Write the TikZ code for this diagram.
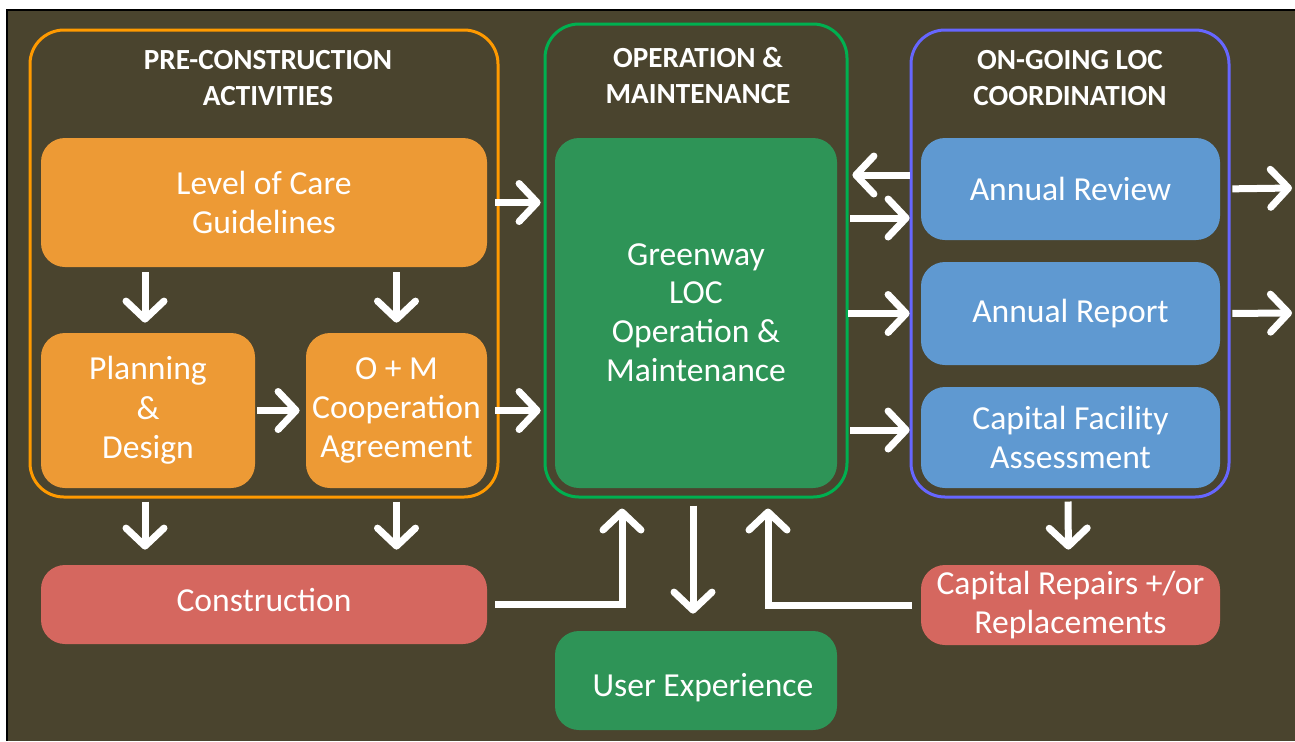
\documentclass[tikz,border=0pt]{standalone}
\usepackage{fontspec}
\setmainfont{Carlito}
\usetikzlibrary{arrows.meta}
\definecolor{bgcol}{HTML}{4A442E}
\definecolor{preline}{HTML}{FF9A00}
\definecolor{omline}{HTML}{00B050}
\definecolor{locline}{HTML}{6666FF}
\definecolor{prefill}{HTML}{ED9A35}
\definecolor{omfill}{HTML}{2E9457}
\definecolor{locfill}{HTML}{5F99D1}
\definecolor{redfill}{HTML}{D5675F}
\begin{document}
\begin{tikzpicture}[x=0.5pt,y=-0.5pt,
  frame/.style={draw,line width=1.5pt,rounded corners=17pt,inner sep=0pt},
  head/.style={text=white,font=\bfseries\fontsize{14.6}{18}\selectfont,align=center},
  box/.style={rounded corners=12pt,text=white,font=\fontsize{16.8}{19.7}\selectfont,align=center,inner sep=0pt},
  flow/.style={draw=white,line width=3.5pt,-{Straight Barb[length=9pt,width=19pt,round]}},
]
%%
\useasboundingbox (0,0) rectangle (1295,741);
\fill[bgcol] (7,10) rectangle (1295,741);
\draw[black,line width=1pt] (7,741) -- (7,10) -- (1295,10);
%% frames
\node (pre) at (264,263.5) [frame,draw=preline,minimum width=234pt,minimum height=233.5pt] {};
\node (om) at (696,260.5) [frame,draw=omline,minimum width=151pt,minimum height=236.5pt] {};
\node (loc) at (1070,263.5) [frame,draw=locline,minimum width=159pt,minimum height=233.5pt] {};
\node (prehead) at (268,78) [head] {PRE-CONSTRUCTION\\ACTIVITIES};
\node (omhead) at (698,76) [head] {OPERATION \&\\MAINTENANCE};
\node (lochead) at (1070,78) [head] {ON-GOING LOC\\COORDINATION};
%% boxes
\node (care) at (264,202.5) [box,fill=prefill,minimum width=223pt,minimum height=64.5pt] {Level of Care\\Guidelines};
\node (plan) at (148,410.5) [box,fill=prefill,minimum width=107pt,minimum height=77.5pt] {Planning\\\&\\Design};
\node (coop) at (396.5,410.5) [box,fill=prefill,minimum width=90.5pt,minimum height=77.5pt] {O + M\\Cooperation\\Agreement};
\node (greenway) at (696,313) [box,fill=omfill,minimum width=141pt,minimum height=175pt] {\raisebox{-1pt}{Greenway}\\LOC\\Operation \&\\Maintenance};
\node (review) at (1070.5,189) [box,fill=locfill,minimum width=149.5pt,minimum height=51pt] {Annual Review};
\node (report) at (1070.5,313.5) [box,fill=locfill,minimum width=149.5pt,minimum height=51.5pt] {Annual Report};
\node (facility) at (1070.5,437.5) [box,fill=locfill,minimum width=149.5pt,minimum height=50.5pt] {Capital Facility\\Assessment};
\node (construction) at (264,604.5) [box,fill=redfill,minimum width=223pt,minimum height=39.5pt,text height=11pt,text depth=4pt] {Construction};
\node (user) at (696,680.5) [box,fill=omfill,minimum width=141pt,minimum height=49.5pt,text height=19pt,text depth=3.5pt] {\hspace{7pt}User Experience};
\node (repairs) at (1070.5,605) [box,fill=redfill,minimum width=149.5pt,minimum height=40pt] {Capital Repairs +/or\\Replacements};
\coordinate (out1) at (1292,188);
\coordinate (out2) at (1292,313);
%% arrows
\draw[flow,shorten <=2.5pt,shorten >=5pt] ([xshift=-1.5pt]care.south -| plan) -- ([xshift=-1.5pt]plan.north);
\draw[flow,shorten <=2.5pt,shorten >=5pt] (care.south -| coop) -- (coop.north);
\draw[flow,shorten <=1pt,shorten >=3pt] (plan.east) -- (coop.west);
\draw[flow,shorten <=4pt,shorten >=7pt] (care.east) -- (care.east -| greenway.west);
\draw[flow,shorten <=4pt,shorten >=7pt] (coop.east) -- (coop.east -| greenway.west);
\draw[flow,shorten <=5.5pt,shorten >=7.5pt] ([yshift=7pt]review.west) -- ([yshift=7pt]review.west -| greenway.east);
\draw[flow,shorten <=6.5pt,shorten >=5.5pt] ([yshift=-14.5pt]review.west -| greenway.east) -- ([yshift=-14.5pt]review.west);
\draw[flow,shorten <=5.5pt,shorten >=5.5pt] (report.west -| greenway.east) -- (report.west);
\draw[flow,shorten <=6.5pt,shorten >=5.5pt] ([yshift=3.75pt]facility.west -| greenway.east) -- ([yshift=3.75pt]facility.west);
\draw[flow,shorten <=6pt] (review.east) -- (out1);
\draw[flow,shorten <=6pt] (report.east) -- (out2);
\draw[flow,shorten <=1.5pt,shorten >=7.5pt] ([xshift=-1.5pt]pre.south -| plan) -- ([xshift=-1.5pt]construction.north -| plan);
\draw[flow,shorten <=1.5pt,shorten >=7.5pt] (pre.south -| coop) -- (construction.north -| coop);
\draw[flow,shorten <=4pt,shorten >=5pt] (construction.east) -| ([xshift=-37pt]om.south);
\draw[flow,shorten <=4.5pt,shorten >=5pt] (repairs.west) -| ([xshift=36pt]om.south);
\draw[flow,shorten <=3.5pt,shorten >=8.5pt] ([xshift=-1.5pt]om.south) -- ([xshift=-1.5pt]user.north);
\draw[flow,shorten <=1.5pt,shorten >=7.5pt] ([xshift=-1pt]loc.south) -- ([xshift=-1pt]repairs.north);
%
\end{tikzpicture}
\end{document}
